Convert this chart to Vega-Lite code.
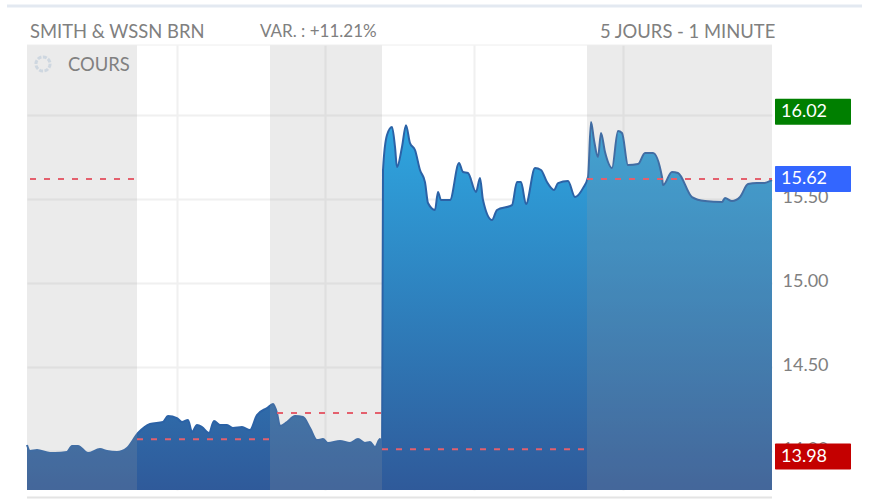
{
"$schema":"https://vega.github.io/schema/vega-lite/v6.json",
"width":745,"height":445,
"autosize":{"type":"none"},
"padding":{"left":27,"top":45,"right":98,"bottom":10},
"background":"white",
"config":{"view":{"stroke":null},"text":{"font":"Lato"}},
"datasets":{
"prices":[
{"t":0,"p":14.036},{"t":3,"p":14.0},{"t":10,"p":14.006},{"t":23,"p":13.988},{"t":28,"p":13.988},{"t":40,"p":13.994},{"t":45,"p":14.03},{"t":51,"p":14.03},{"t":61,"p":13.988},{"t":73,"p":14.012},{"t":80,"p":14.0},{"t":90,"p":13.994},{"t":100,"p":14.018},{"t":111,"p":14.107},{"t":123,"p":14.161},{"t":136,"p":14.173},{"t":141,"p":14.208},{"t":150,"p":14.196},{"t":155,"p":14.173},{"t":161,"p":14.185},{"t":165,"p":14.113},{"t":170,"p":14.155},{"t":175,"p":14.143},{"t":182,"p":14.107},{"t":187,"p":14.179},{"t":193,"p":14.155},{"t":200,"p":14.155},{"t":206,"p":14.137},{"t":215,"p":14.143},{"t":223,"p":14.125},{"t":230,"p":14.214},{"t":240,"p":14.256},{"t":246,"p":14.28},{"t":250,"p":14.226},{"t":253,"p":14.149},{"t":260,"p":14.173},{"t":268,"p":14.208},{"t":276,"p":14.202},{"t":283,"p":14.137},{"t":290,"p":14.065},{"t":296,"p":14.071},{"t":301,"p":14.048},{"t":313,"p":14.06},{"t":323,"p":14.048},{"t":331,"p":14.071},{"t":338,"p":14.048},{"t":343,"p":14.054},{"t":348,"p":14.024},{"t":353,"p":14.071},{"t":355,"p":14.036},
{"t":356,"p":15.673},{"t":360,"p":15.881},{"t":365,"p":15.929},{"t":368,"p":15.81},{"t":370,"p":15.69},{"t":375,"p":15.81},{"t":379,"p":15.94},{"t":383,"p":15.833},{"t":388,"p":15.792},{"t":393,"p":15.673},{"t":398,"p":15.601},{"t":401,"p":15.476},{"t":408,"p":15.435},{"t":411,"p":15.542},{"t":414,"p":15.494},{"t":423,"p":15.494},{"t":432,"p":15.714},{"t":436,"p":15.661},{"t":441,"p":15.655},{"t":449,"p":15.542},{"t":453,"p":15.625},{"t":456,"p":15.494},{"t":465,"p":15.375},{"t":470,"p":15.435},{"t":485,"p":15.464},{"t":490,"p":15.601},{"t":494,"p":15.601},{"t":499,"p":15.47},{"t":508,"p":15.685},{"t":514,"p":15.673},{"t":520,"p":15.601},{"t":527,"p":15.554},{"t":531,"p":15.595},{"t":541,"p":15.607},{"t":548,"p":15.512},{"t":556,"p":15.565},{"t":561,"p":15.631},{"t":564,"p":15.958},{"t":567,"p":15.851},{"t":571,"p":15.75},{"t":574,"p":15.893},{"t":578,"p":15.78},{"t":585,"p":15.685},{"t":591,"p":15.905},{"t":595,"p":15.893},{"t":601,"p":15.702},{"t":611,"p":15.708},{"t":618,"p":15.774},{"t":626,"p":15.774},{"t":635,"p":15.631},{"t":636,"p":15.583},{"t":645,"p":15.661},{"t":651,"p":15.655},{"t":665,"p":15.512},{"t":678,"p":15.488},{"t":695,"p":15.482},{"t":698,"p":15.506},{"t":705,"p":15.488},{"t":713,"p":15.512},{"t":721,"p":15.589},{"t":730,"p":15.595},{"t":736,"p":15.595},{"t":745,"p":15.613}
],
"sessions":[{"start":0,"end":110},{"start":243,"end":355},{"start":560,"end":745}],
"refs":[
{"start":3,"end":110,"level":15.62},{"start":110,"end":243,"level":14.07},{"start":250,"end":355,"level":14.226},{"start":355,"end":560,"level":14.01},{"start":560,"end":745,"level":15.62}
],
"tags":[
{"label":"16.02","t":786,"p":16.02},
{"label":"15.62","t":786,"p":15.62},
{"label":"13.98","t":786,"p":13.967}
],
"captions":[
{"label":"SMITH & WSSN BRN","t":3,"p":16.494},
{"label":"5 JOURS - 1 MINUTE","t":573,"p":16.494},
{"label":"COURS","t":41,"p":16.298}
],
"captions2":[{"label":"VAR. : +11.21%","t":233,"p":16.494}],
"icon":[{"t":16,"p":16.304}],
"topbar":[{"start":-20,"end":835,"p":16.649}],
"edges":[{"start":0,"end":745,"p":16.417}],
"footer":[{"start":0,"end":745,"p":13.724}]
},
"layer":[
{"data":{"name":"prices"},
 "mark":{"type":"area","interpolate":"monotone","color":{"gradient":"linear","x1":0,"y1":0,"x2":0,"y2":1,"stops":[{"offset":0,"color":"#2ea6e0"},{"offset":1,"color":"#2f5a9a"}]}},
 "encoding":{
  "x":{"field":"t","type":"quantitative","scale":{"domain":[0,745],"nice":false,"zero":false},
   "axis":{"values":[150,298,447,596],"grid":true,"gridColor":"#f0f0f0","gridWidth":2,"labels":false,"ticks":false,"domain":false,"title":null}},
  "y":{"field":"p","type":"quantitative","scale":{"domain":[13.768,16.417],"nice":false,"zero":false},
   "axis":{"orient":"right","values":[14,14.5,15,15.5,16],"format":".2f","grid":true,"gridColor":"#f0f0f0","gridWidth":2,"ticks":false,"domain":false,"title":null,"labelPadding":10,"labelOffset":-2,"labelFont":"Lato","labelFontSize":18,"labelColor":"#808080"}},
  "y2":{"datum":13.768}}},
{"data":{"name":"prices"},
 "mark":{"type":"line","interpolate":"monotone","color":"#2b62a6","strokeWidth":2},
 "encoding":{"x":{"field":"t","type":"quantitative"},"y":{"field":"p","type":"quantitative"}}},
{"data":{"name":"sessions"},
 "mark":{"type":"rect","color":"#9b9b9b","opacity":0.2},
 "encoding":{"x":{"field":"start","type":"quantitative"},"x2":{"field":"end"}}},
{"data":{"name":"refs"},
 "mark":{"type":"rule","color":"#e4606d","strokeWidth":2,"strokeDash":[6,8]},
 "encoding":{"x":{"field":"start","type":"quantitative"},"x2":{"field":"end"},"y":{"field":"level","type":"quantitative"}}},
{"data":{"name":"topbar"},
 "mark":{"type":"rule","color":"#e3e9f1","strokeWidth":3},
 "encoding":{"x":{"field":"start","type":"quantitative"},"x2":{"field":"end"},"y":{"field":"p","type":"quantitative"}}},
{"data":{"name":"edges"},
 "mark":{"type":"rule","color":"#eeeeee","strokeWidth":1},
 "encoding":{"x":{"field":"start","type":"quantitative"},"x2":{"field":"end"},"y":{"field":"p","type":"quantitative"}}},
{"data":{"name":"footer"},
 "mark":{"type":"rule","color":"#e4e4e4","strokeWidth":2},
 "encoding":{"x":{"field":"start","type":"quantitative"},"x2":{"field":"end"},"y":{"field":"p","type":"quantitative"}}},
{"data":{"name":"tags"},
 "mark":{"type":"rect","width":76,"height":26,"cornerRadius":1},
 "encoding":{"x":{"field":"t","type":"quantitative"},"y":{"field":"p","type":"quantitative"},"color":{"field":"label","type":"nominal","legend":null,"scale":{"domain":["16.02","15.62","13.98"],"range":["#007f00","#3366ff","#c40000"]}}}},
{"data":{"name":"tags"},
 "mark":{"type":"text","align":"left","baseline":"middle","color":"white","fontSize":18,"font":"Lato","dx":-32},
 "encoding":{"x":{"field":"t","type":"quantitative"},"y":{"field":"p","type":"quantitative"},"text":{"field":"label"}}},
{"data":{"name":"captions"},
 "mark":{"type":"text","align":"left","baseline":"middle","color":"#808080","fontSize":18.4,"font":"Lato"},
 "encoding":{"x":{"field":"t","type":"quantitative"},"y":{"field":"p","type":"quantitative"},"text":{"field":"label"}}},
{"data":{"name":"captions2"},
 "mark":{"type":"text","align":"left","baseline":"middle","color":"#808080","fontSize":17,"font":"Lato"},
 "encoding":{"x":{"field":"t","type":"quantitative"},"y":{"field":"p","type":"quantitative"},"text":{"field":"label"}}},
{"data":{"name":"icon"},
 "mark":{"type":"point","shape":"circle","filled":false,"size":200,"color":"#c3cfdc","strokeWidth":3,"strokeDash":[4,1.5]},
 "encoding":{"x":{"field":"t","type":"quantitative"},"y":{"field":"p","type":"quantitative"}}}
]
}
